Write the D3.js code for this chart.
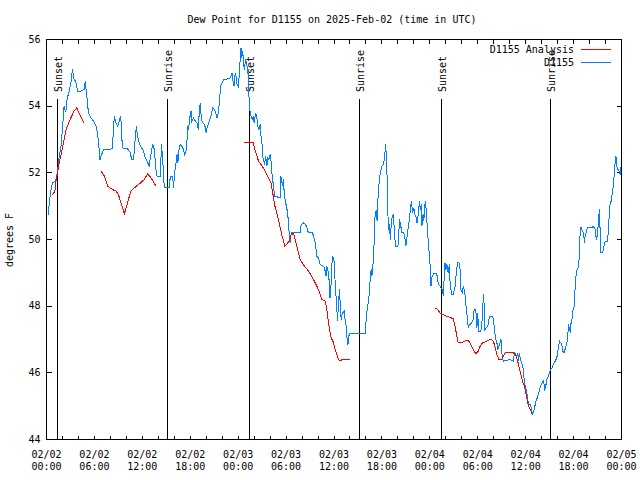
<!DOCTYPE html>
<html><head><meta charset="utf-8">
<script src="https://cdn.jsdelivr.net/npm/d3@7"></script>
<style>
body{margin:0;background:#fff}
svg{display:block}
text{font-family:"DejaVu Sans Mono",monospace;font-size:10px;fill:#000}
</style>
</head><body>
<svg id="chart" width="640" height="480"></svg>
<script>
const chartTitle = "Dew Point for D1155 on 2025-Feb-02 (time in UTC)";
const yAxisLabel = "degrees F";
const startUTC = Date.UTC(2025, 1, 2, 0, 0);
const spanHours = 72;
const yDomain = [44, 56];
const yTickValues = [44, 46, 48, 50, 52, 54, 56];
const seriesNames = ["D1155 Analysis", "D1155"];
const sunsetHours = [1.38, 25.42, 49.46];
const sunriseHours = [15.15, 39.19, 63.11];

// [hours since 2025-02-02 00:00 UTC, dew point F]
const observed = [[0.2,50.75],[0.4,51.2],[0.6,51.55],[0.75,51.7],[1.15,51.75],[1.35,52.0],[1.6,52.5],[1.8,52.75],[2.0,53.35],[2.2,54.0],[2.35,53.85],[2.45,53.9],[2.6,54.25],[2.8,54.4],[3.05,54.7],[3.25,55.1],[3.45,54.8],[3.65,54.75],[3.9,54.45],[4.3,54.45],[4.7,54.5],[4.85,54.75],[5.05,54.3],[5.25,53.8],[5.55,53.65],[5.9,53.55],[6.2,53.4],[6.4,53.15],[6.6,52.7],[6.7,52.4],[6.9,52.55],[7.15,52.7],[7.65,52.7],[8.25,52.72],[8.4,53.4],[8.5,53.7],[8.7,53.5],[8.9,53.4],[9.1,53.55],[9.3,53.7],[9.4,53.25],[9.5,52.75],[10.15,52.72],[10.5,52.6],[10.65,52.4],[10.9,52.4],[11.1,53.0],[11.25,53.4],[11.4,53.1],[11.6,52.9],[11.9,52.75],[12.15,52.65],[12.35,52.45],[12.6,52.35],[12.85,52.2],[13.1,52.6],[13.3,52.85],[13.5,52.7],[13.7,52.1],[13.85,51.9],[14.25,51.9],[14.4,52.85],[14.55,52.4],[14.75,51.55],
[15.38,51.55],[15.5,51.9],[15.8,51.9],[15.9,51.55],[16.05,52.0],[16.25,52.35],[16.35,52.55],[16.45,52.3],[16.55,52.65],[16.75,52.85],[16.95,52.8],[17.15,52.7],[17.3,52.55],[17.45,52.6],[17.6,53.0],[17.7,53.35],[17.8,53.3],[17.9,53.6],[18.1,53.85],[18.2,53.55],[18.4,53.65],[18.65,53.55],[18.85,53.5],[19.0,53.3],[19.15,53.9],[19.25,54.1],[19.4,53.6],[19.55,53.5],[19.8,53.45],[20.0,53.2],[20.1,53.35],[20.4,53.55],[20.65,53.75],[20.8,53.95],[21.05,53.9],[21.25,53.75],[21.35,53.65],[21.5,53.8],[21.65,54.1],[21.8,54.6],[22.0,54.7],[22.2,54.8],[22.8,54.82],[23.0,54.85],[23.25,55.0],[23.35,54.75],[23.5,54.6],[23.55,54.9],[23.7,55.0],[23.8,54.7],[24.0,54.6],[24.15,54.95],
[24.25,55.4],[24.35,55.75],[24.45,55.45],[24.55,55.65],[24.7,55.35],[24.75,55.1],[24.95,55.4],[25.05,55.25],[25.2,55.15],[25.25,54.9],[25.35,54.3],[25.45,53.9],[25.6,53.7],[25.75,53.6],[25.9,53.7],[26.0,53.5],[26.2,53.8],[26.35,53.65],[26.45,53.4],[26.6,53.3],[26.75,53.45],[26.85,53.1],[26.95,53.05],[27.05,52.55],[27.15,52.4],[27.3,52.25],[27.45,52.5],[27.6,52.2],[27.7,52.45],[27.85,52.4],[28.0,52.55],[28.1,52.4],[28.2,52.0],[28.3,51.9],[28.4,51.6],[28.6,51.3],[29.25,51.25],[29.35,51.9],[29.55,51.6],[29.65,51.8],[29.8,51.3],[29.95,51.1],[30.2,50.8],[30.35,50.3],[30.5,49.9],[30.65,50.2],[31.75,50.2],[31.9,50.45],[32.15,50.5],[32.45,50.45],[32.6,50.35],[32.8,50.2],[33.3,50.2],[33.45,50.1],[33.65,49.9],[33.85,49.5],[34.05,49.45],[34.25,49.25],[34.7,49.2],[34.9,49.05],[35.0,48.9],[35.1,49.2],[35.25,49.05],[35.4,48.75],[35.5,48.25],[35.65,48.7],[35.75,49.3],[35.85,49.5],[36.0,49.35],[36.15,48.7],[36.3,48.1],[36.45,47.55],[36.55,48.1],[36.7,48.5],[36.75,48.2],[36.9,47.6],[37.05,47.8],[37.3,47.85],[37.4,47.55],[37.55,47.4],[37.6,47.1],[37.75,46.85],[37.8,47.05],[37.95,47.18],[39.9,47.18],[40.0,47.5],[40.15,47.9],[40.35,48.2],[40.55,48.85],[40.65,49.1],[40.75,48.9],[40.85,49.15],[40.95,49.5],[41.1,50.3],[41.15,50.8],[41.3,50.85],[41.4,50.55],[41.5,51.2],[41.65,51.7],[41.8,52.0],[42.0,52.2],[42.2,52.25],[42.35,52.5],[42.45,52.85],[42.55,52.55],[42.65,51.85],[42.75,50.75],[42.85,50.3],[42.95,50.45],[43.05,50.0],[43.2,50.6],[43.35,50.7],[43.45,50.75],[43.6,50.05],[43.75,49.8],[44.0,49.8],[44.1,50.1],[44.2,50.6],[44.4,50.35],[44.5,50.2],[44.7,50.2],[44.85,50.1],[45.0,49.8],[45.15,50.1],[45.25,50.3],[45.45,50.6],[45.55,50.9],[45.7,51.15],[45.75,51.0],[45.85,50.8],[46.0,50.95],[46.1,50.75],[46.25,50.7],[46.4,50.5],[46.5,50.65],[46.7,51.15],[46.8,50.9],[46.95,51.05],[47.0,50.4],[47.15,50.75],[47.25,50.55],[47.35,51.0],[47.45,51.15],[47.55,50.85],[47.7,50.3],[47.85,49.8],[48.0,49.35],[48.1,48.9],
[48.15,48.6],[48.25,48.85],[48.45,48.98],[48.85,48.98],[49.0,48.8],[49.05,48.65],[49.25,48.62],[49.4,48.55],[49.55,48.5],[49.7,48.3],[49.8,48.9],[49.9,49.3],[50.0,49.1],[50.15,49.25],[50.3,49.0],[50.45,49.25],[50.55,48.6],[50.75,48.35],[50.95,48.35],[51.05,48.5],[51.15,48.55],[51.35,49.1],[51.5,49.3],[51.65,49.3],[51.8,49.1],[51.9,48.5],[52.05,48.4],[52.2,48.6],[52.3,48.5],[52.4,48.35],[52.5,48.1],[52.6,47.8],[52.75,47.6],[52.8,47.35],[53.0,47.45],[53.25,47.5],[53.45,47.6],[53.55,47.9],[53.75,47.9],[53.9,47.35],[54.0,47.8],[54.1,47.25],[54.4,47.25],[54.6,47.7],[54.7,48.35],[54.85,47.9],[54.9,47.3],[55.25,47.4],[55.4,47.6],[55.55,47.7],[55.85,47.7],[55.95,47.6],[56.1,47.3],[56.25,47.0],[56.4,46.9],[56.5,46.7],[56.65,46.8],[56.8,46.9],[56.9,47.0],[57.0,46.8],[57.05,46.5],[57.2,46.35],[57.65,46.38],[58.05,46.4],[58.45,46.35],[58.6,46.6],[58.9,46.5],[59.0,46.6],[59.1,46.35],[59.2,46.6],[59.3,46.45],[59.5,46.3],[59.7,46.1],[59.85,45.7],[60.15,45.4],[60.35,45.05],[60.55,45.05],[60.7,44.95],[60.8,44.75],[61.0,44.85],[61.15,45.0],[61.3,45.15],[61.45,45.25],[61.65,45.4],[61.8,45.55],[62.05,45.7],[62.2,45.75],[62.3,45.65],[62.35,45.45],[62.45,45.55],[62.6,45.7],[62.65,45.8],[62.85,45.9],[63.1,46.1],[63.3,46.15],[63.5,46.28],[63.7,46.35],[63.9,46.45],[64.05,46.7],[64.25,46.95],[64.4,46.9],[64.55,46.8],[64.65,46.65],[64.8,46.6],[65.05,46.8],[65.25,47.0],[65.35,47.45],[65.5,47.3],[65.6,47.2],[65.65,47.45],[65.8,47.6],[65.9,47.85],[66.1,48.0],[66.2,48.6],[66.35,49.05],[66.65,49.2],[66.75,49.8],[66.85,50.35],[66.95,50.35],[67.1,50.25],[67.25,50.2],[67.35,49.9],[67.45,50.1],[67.6,50.25],[67.75,50.35],[68.5,50.38],[68.7,50.3],[68.8,50.1],[68.9,50.0],[69.05,50.3],[69.1,50.75],[69.2,50.5],[69.25,50.9],[69.35,50.0],[69.4,49.6],[69.65,49.6],[69.8,49.8],[69.95,49.95],[70.25,49.95],[70.4,50.4],[70.5,51.0],[70.7,51.15],[70.85,51.4],[71.0,51.65],[71.1,52.0],[71.2,52.3],[71.3,52.5],[71.4,52.2],[71.55,52.1],[71.7,52.05],[71.85,51.95],[71.95,52.2],[72.0,52.0]];

// analysis; null marks a gap
const analysis = [[0.75,51.35],[1.05,51.45],[1.15,51.7],[1.35,51.95],[1.6,52.3],[2.05,52.8],[2.45,53.3],[3.05,53.65],[3.45,53.85],[3.8,53.95],[4.15,53.75],[4.5,53.6],[4.7,53.5],[5.7,null],
[6.8,52.07],[7.25,51.9],[7.65,51.6],[8.25,51.5],[8.7,51.45],[9.0,51.35],[9.4,51.05],[9.75,50.77],[10.15,51.1],[10.55,51.45],[11.0,51.55],[11.8,51.7],[12.25,51.8],[12.65,51.97],[13.1,51.85],[13.7,51.6],[18,null],
[24.75,52.9],[25.75,52.92],[25.9,52.9],[26.1,52.7],[26.55,52.35],[27.15,52.15],[27.6,51.95],[28.1,51.7],[28.4,51.3],[28.6,51.0],[29.05,50.6],[29.45,50.15],[29.85,49.8],[30.4,49.95],[30.65,50.15],[30.95,50.18],[31.35,49.8],[31.75,49.4],[32.15,49.25],[32.8,49.05],[33.2,48.9],[33.65,48.7],[34.05,48.5],[34.5,48.2],[34.9,48.15],[35.1,47.9],[35.4,47.35],[35.65,47.05],[35.95,46.9],[36.15,46.7],[36.55,46.4],[36.7,46.37],[37.2,46.4],[37.95,46.4],[42,null],
[48.65,47.95],[49.0,47.9],[49.25,47.8],[49.55,47.75],[49.9,47.72],[50.3,47.68],[50.65,47.65],[50.95,47.62],[51.15,47.4],[51.35,47.15],[51.55,46.9],[52.0,46.9],[52.3,46.95],[52.8,46.98],[53.25,46.8],[53.55,46.65],[53.75,46.58],[54.0,46.62],[54.3,46.8],[54.6,46.9],[55.15,46.95],[55.55,47.0],[55.85,46.98],[56.1,46.85],[56.25,46.7],[56.4,46.55],[56.65,46.4],[57.0,46.4],[57.2,46.5],[57.5,46.62],[58.05,46.62],[58.45,46.6],[58.75,46.55],[59.0,46.35],[59.15,46.2],[59.5,45.85],[59.65,45.7],[59.8,45.65],[60.1,45.3],[60.35,45.0],[60.8,44.8]];

const colors = {analysis: "#ff0000", observed: "#0080ff"};
const M = {left: 46.5, right: 621.5, top: 39.5, bottom: 439.5};

const toDate = h => new Date(startUTC + h * 3600000);
const svg = d3.select("#chart");

const x = d3.scaleUtc().domain([toDate(0), toDate(spanHours)]).range([M.left, M.right]);
const y = d3.scaleLinear().domain(yDomain).range([M.bottom, M.top]);

// title
svg.append("text").attr("x", 332).attr("y", 23).attr("text-anchor", "middle").text(chartTitle);
// y label
svg.append("text").attr("transform", "translate(13,240) rotate(-90)").attr("text-anchor", "middle").text(yAxisLabel);

// axes
const hourTicks = d3.utcHour.every(2);
const gB = svg.append("g").attr("transform", `translate(0,${M.bottom})`)
  .call(d3.axisBottom(x).ticks(hourTicks).tickSizeInner(-4).tickSizeOuter(0).tickPadding(11).offset(0)
    .tickFormat(d => d.getUTCHours() % 6 === 0 ? "x" : ""));
gB.selectAll(".tick text").each(function(d) {
  const s = d3.select(this);
  if (d.getUTCHours() % 6 !== 0) { s.remove(); return; }
  s.text(null);
  s.append("tspan").attr("x", 0).text(d3.utcFormat("%m/%d")(d));
  s.append("tspan").attr("x", 0).attr("dy", "1.25em").text(d3.utcFormat("%H:%M")(d));
});
const gT = svg.append("g").attr("transform", `translate(0,${M.top})`)
  .call(d3.axisTop(x).ticks(hourTicks).tickSizeInner(-4).tickSizeOuter(0).tickFormat("").offset(0));
const gL = svg.append("g").attr("transform", `translate(${M.left},0)`)
  .call(d3.axisLeft(y).tickValues(yTickValues).tickSizeInner(-5).tickSizeOuter(0).tickPadding(6).offset(0));
const gR = svg.append("g").attr("transform", `translate(${M.right},0)`)
  .call(d3.axisRight(y).tickValues(yTickValues).tickSizeInner(-5).tickSizeOuter(0).tickFormat("").offset(0));
[gB, gT, gL, gR].forEach(g => {
  g.select(".domain").remove();
  g.selectAll("line").attr("stroke", "#000").attr("shape-rendering", "crispEdges");
});

// sunrise / sunset
const sunEvents = sunsetHours.map(h => ({h, label: "Sunset"}))
  .concat(sunriseHours.map(h => ({h, label: "Sunrise"})));
const gs = svg.append("g");
sunEvents.forEach(e => {
  const xp = x(toDate(e.h));
  gs.append("line").attr("x1", xp).attr("x2", xp).attr("y1", 99).attr("y2", M.bottom)
    .attr("stroke", "#000").attr("shape-rendering", "crispEdges");
  gs.append("text").attr("transform", `translate(${xp + 1},92) rotate(-90)`)
    .attr("dy", "0.35em").text(e.label);
});

// data lines
const line = d3.line()
  .defined(d => d[1] !== null)
  .x(d => x(toDate(d[0])))
  .y(d => y(d[1]));
svg.append("path").datum(observed).attr("d", line).attr("fill", "none")
  .attr("stroke", colors.observed).attr("stroke-width", 1).attr("shape-rendering", "crispEdges");
svg.append("path").datum(analysis).attr("d", line).attr("fill", "none")
  .attr("stroke", colors.analysis).attr("stroke-width", 1).attr("shape-rendering", "crispEdges");

// frame
svg.append("rect").attr("x", M.left).attr("y", M.top).attr("width", M.right - M.left)
  .attr("height", M.bottom - M.top).attr("fill", "none").attr("stroke", "#000")
  .attr("shape-rendering", "crispEdges");

// legend
const legend = svg.append("g");
[["analysis", 49.5], ["observed", 62.5]].forEach(([k, ly], i) => {
  legend.append("text").attr("x", 574).attr("y", ly).attr("dy", "0.35em")
    .attr("text-anchor", "end").text(seriesNames[i]);
  legend.append("line").attr("x1", 581).attr("x2", 611).attr("y1", ly).attr("y2", ly)
    .attr("stroke", colors[k]).attr("shape-rendering", "crispEdges");
});
</script>
</body></html>
